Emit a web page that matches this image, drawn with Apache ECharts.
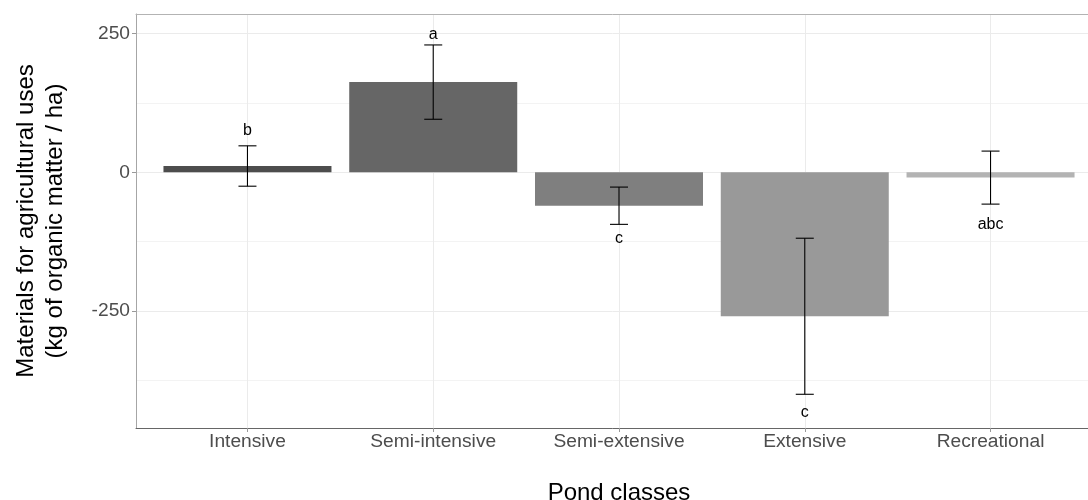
<!DOCTYPE html>
<html>
<head>
<meta charset="utf-8">
<script src="https://cdn.jsdelivr.net/npm/echarts@6/dist/echarts.min.js"></script>
<style>
html,body{margin:0;padding:0;background:#fff;}
#chart{width:1088px;height:500px;}
</style>
</head>
<body>
<div id="chart"></div>
<script>
const categories = ['Intensive', 'Semi-intensive', 'Semi-extensive', 'Extensive', 'Recreational'];
const means = [11.4, 162.7, -60.2, -259.5, -9.5];
const errors = [36.4, 67.0, 33.6, 140.7, 47.8];
const letters = ['b', 'a', 'c', 'c', 'abc'];
const letterY = [76, 248, -120, -433.5, -95];
const barColors = ['#4d4d4d', '#666666', '#7f7f7f', '#999999', '#b3b3b3'];
const yTicks = [-250, 0, 250];
const yMinorTicks = [-375, -125, 125];
const xPositions = [1, 2, 3, 4, 5];

const FONT = 'Liberation Sans';

const chart = echarts.init(document.getElementById('chart'), null, {renderer: 'canvas'});

const option = {
  animation: false,
  backgroundColor: '#ffffff',
  textStyle: {fontFamily: FONT},
  grid: {
    left: 136, top: 14, right: -14, bottom: 72,
    outerBoundsMode: 'none',
    containLabel: false,
    show: false
  },
  xAxis: [
    {
      type: 'value',
      min: 0.4, max: 5.6,
      name: 'Pond classes',
      nameLocation: 'middle',
      nameGap: 53,
      nameTextStyle: {fontSize: 24, color: '#000', fontFamily: FONT},
      axisLine: {show: true, onZero: false, lineStyle: {color: '#666666', width: 1}},
      axisTick: {show: true, length: 4, customValues: xPositions, lineStyle: {color: '#999999'}},
      axisLabel: {
        customValues: xPositions, fontSize: 19.2, color: '#4d4d4d', margin: 4, fontFamily: FONT,
        formatter: v => categories[Math.round(v) - 1] || ''
      },
      splitLine: {show: false}
    },
    {
      type: 'value',
      position: 'top',
      min: 0.4, max: 5.6,
      axisLine: {show: true, onZero: false, lineStyle: {color: '#b3b3b3', width: 1}},
      axisTick: {show: false},
      axisLabel: {show: false},
      splitLine: {show: false}
    }
  ],
  yAxis: {
    type: 'value',
    min: -461, max: 285.5,
    name: 'Materials for agricultural uses\n(kg of organic matter / ha)',
    nameLocation: 'middle',
    nameRotate: 90,
    nameGap: 66,
    nameTextStyle: {fontSize: 24, color: '#000', lineHeight: 29, fontFamily: FONT},
    axisLine: {show: true, onZero: false, lineStyle: {color: '#a6a6a6', width: 1}},
    axisTick: {show: true, length: 4, customValues: yTicks, lineStyle: {color: '#999999'}},
    axisLabel: {customValues: yTicks, fontSize: 19.2, color: '#4d4d4d', margin: 6, fontFamily: FONT},
    splitLine: {show: false}
  },
  series: [
    {
      type: 'line',
      data: [],
      z: 0,
      silent: true,
      markLine: {
        silent: true,
        z: 0,
        symbol: 'none',
        label: {show: false},
        animation: false,
        data: [
          ...yMinorTicks.map(v => ({yAxis: v, lineStyle: {color: '#f3f3f3', width: 1, type: 'solid'}})),
          ...yTicks.map(v => ({yAxis: v, lineStyle: {color: '#ebebeb', width: 1, type: 'solid'}})),
          ...xPositions.map(v => ({xAxis: v, lineStyle: {color: '#ebebeb', width: 1, type: 'solid'}}))
        ]
      }
    },
    {
      type: 'bar',
      z: 5,
      barWidth: 168,
      data: means.map((v, i) => ({value: [xPositions[i], v], itemStyle: {color: barColors[i]}}))
    },
    {
      type: 'custom',
      z: 6,
      data: means.map((v, i) => [xPositions[i], v - errors[i], v + errors[i]]),
      renderItem: function (params, api) {
        const x = api.value(0);
        const lo = api.coord([x, api.value(1)]);
        const hi = api.coord([x, api.value(2)]);
        const half = 9;
        const style = {stroke: '#000000', lineWidth: 1.1, fill: null};
        return {
          type: 'group',
          children: [
            {type: 'line', shape: {x1: lo[0], y1: lo[1], x2: hi[0], y2: hi[1]}, style: style},
            {type: 'line', shape: {x1: hi[0] - half, y1: hi[1], x2: hi[0] + half, y2: hi[1]}, style: style},
            {type: 'line', shape: {x1: lo[0] - half, y1: lo[1], x2: lo[0] + half, y2: lo[1]}, style: style}
          ]
        };
      }
    },
    {
      type: 'custom',
      z: 7,
      data: letterY.map((v, i) => [xPositions[i], v]),
      renderItem: function (params, api) {
        const p = api.coord([api.value(0), api.value(1)]);
        return {
          type: 'text',
          x: p[0], y: p[1],
          style: {
            text: letters[params.dataIndex],
            fontSize: 16,
            fontFamily: FONT,
            fill: '#000',
            align: 'center',
            verticalAlign: 'middle'
          }
        };
      }
    }
  ]
};
chart.setOption(option);
</script>
</body>
</html>
